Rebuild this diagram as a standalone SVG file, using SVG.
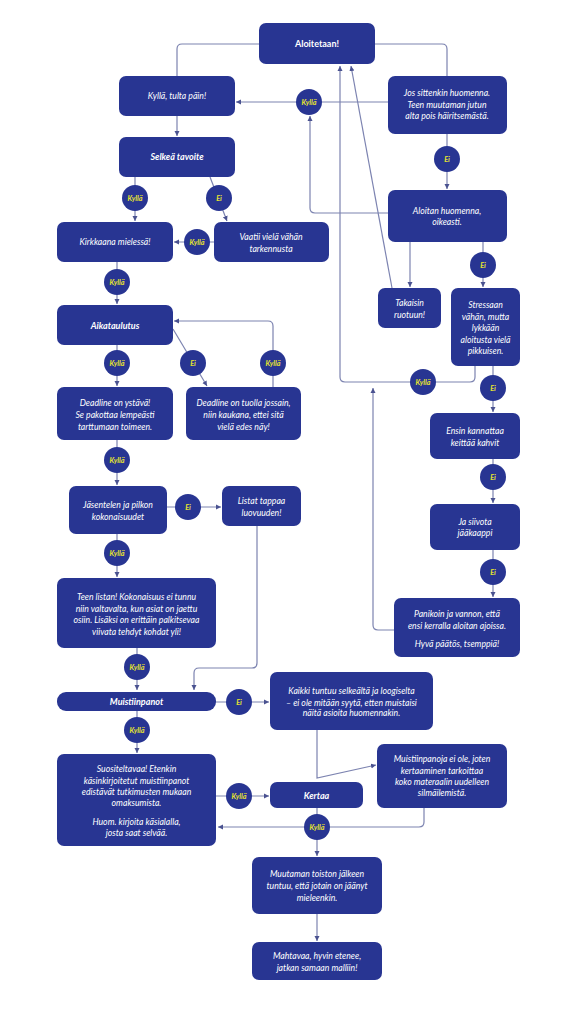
<svg xmlns="http://www.w3.org/2000/svg" width="584" height="1024" viewBox="0 0 584 1024">
<style>
.n{fill:#283592}
.t{fill:#ffffff;font-family:Lato,"Open Sans",sans-serif;font-style:italic;font-size:8.7px;text-anchor:middle}
.b{font-weight:bold;font-size:9px}
.u{font-style:normal}
.c{fill:#283592}
.k{fill:#e9e62c;font-family:Lato,"Open Sans",sans-serif;font-style:italic;font-weight:bold;font-size:7.2px;text-anchor:middle}
.l{fill:none;stroke:#7c83b0;stroke-width:1.2}
.a{marker-end:url(#ah)}
</style>
<defs>
<marker id="ah" markerUnits="userSpaceOnUse" markerWidth="6" markerHeight="6" refX="5" refY="3" orient="auto">
<path d="M0,0.5 L5,3 L0,5.5 Z" fill="#4a5290"/>
</marker>
</defs>
<rect width="584" height="1024" fill="#ffffff"/>
<g id="connectors">
<path class="l" d="M259,44 H182 Q177,44 177,49 V76"/>
<path class="l" d="M375,44 H442 Q447,44 447,49 V76"/>
<path class="l a" d="M388,102 H236"/>
<path class="l a" d="M177,116 V136"/>
<path class="l a" d="M447,134 V189"/>
<path class="l a" d="M388,213 H315 Q310,213 310,208 V116"/>
<path class="l a" d="M475,366 V377 Q475,382 470,382 H345 Q340,382 340,377 V66"/>
<path class="l a" d="M392,288 L351,66"/>
<path class="l a" d="M410,242 V287"/>
<path class="l a" d="M483,242 V287"/>
<path class="l a" d="M493,366 V412"/>
<path class="l a" d="M493,459 V503"/>
<path class="l a" d="M493,550 V597"/>
<path class="l a" d="M394,630 H378 Q373,630 373,625 V388"/>
<path class="l a" d="M135,177 V221"/>
<path class="l a" d="M210,177 L227,221"/>
<path class="l a" d="M214,242 H174"/>
<path class="l a" d="M117,262 V304"/>
<path class="l a" d="M117,345 V386"/>
<path class="l a" d="M173,329 L207,386"/>
<path class="l a" d="M273,387 V326 Q273,321 268,321 H174"/>
<path class="l a" d="M117,440 V485"/>
<path class="l a" d="M167,507 H221"/>
<path class="l a" d="M257,526 V663 Q257,668 252,668 H199 Q194,668 194,673 V690"/>
<path class="l a" d="M117,534 V577"/>
<path class="l a" d="M137,648 V690"/>
<path class="l a" d="M216,702 H269"/>
<path class="l a" d="M137,711 V753"/>
<path class="l a" d="M216,796 H269"/>
<path class="l a" d="M317,730 V778 L376,765"/>
<path class="l a" d="M424,808 V822 Q424,827 419,827 H218"/>
<path class="l a" d="M317,808 V856"/>
<path class="l a" d="M317,914 V941"/>
</g>
<g id="badges">
<g id="b1"><circle class="c" cx="309" cy="102" r="13"/><text class="k" x="309" y="104.5">Kyllä</text></g>
<g id="b2"><circle class="c" cx="447" cy="159" r="13"/><text class="k" x="447" y="161.5">Ei</text></g>
<g id="b3"><circle class="c" cx="135" cy="198" r="13"/><text class="k" x="135" y="200.5">Kyllä</text></g>
<g id="b4"><circle class="c" cx="219" cy="198" r="13"/><text class="k" x="219" y="200.5">Ei</text></g>
<g id="b5"><circle class="c" cx="197" cy="242" r="13"/><text class="k" x="197" y="244.5">Kyllä</text></g>
<g id="b6"><circle class="c" cx="483" cy="265" r="13"/><text class="k" x="483" y="267.5">Ei</text></g>
<g id="b7"><circle class="c" cx="117" cy="282" r="13"/><text class="k" x="117" y="284.5">Kyllä</text></g>
<g id="b8"><circle class="c" cx="117" cy="363" r="13"/><text class="k" x="117" y="365.5">Kyllä</text></g>
<g id="b9"><circle class="c" cx="193" cy="363" r="13"/><text class="k" x="193" y="365.5">Ei</text></g>
<g id="b10"><circle class="c" cx="273" cy="363" r="13"/><text class="k" x="273" y="365.5">Kyllä</text></g>
<g id="b11"><circle class="c" cx="423" cy="382" r="13"/><text class="k" x="423" y="384.5">Kyllä</text></g>
<g id="b12"><circle class="c" cx="493" cy="388" r="13"/><text class="k" x="493" y="390.5">Ei</text></g>
<g id="b13"><circle class="c" cx="117" cy="460" r="13"/><text class="k" x="117" y="462.5">Kyllä</text></g>
<g id="b14"><circle class="c" cx="493" cy="477" r="13"/><text class="k" x="493" y="479.5">Ei</text></g>
<g id="b15"><circle class="c" cx="188" cy="507" r="13"/><text class="k" x="188" y="509.5">Ei</text></g>
<g id="b16"><circle class="c" cx="117" cy="553" r="13"/><text class="k" x="117" y="555.5">Kyllä</text></g>
<g id="b17"><circle class="c" cx="493" cy="572" r="13"/><text class="k" x="493" y="574.5">Ei</text></g>
<g id="b18"><circle class="c" cx="137" cy="667" r="13"/><text class="k" x="137" y="669.5">Kyllä</text></g>
<g id="b19"><circle class="c" cx="239" cy="702" r="13"/><text class="k" x="239" y="704.5">Ei</text></g>
<g id="b20"><circle class="c" cx="137" cy="730" r="13"/><text class="k" x="137" y="732.5">Kyllä</text></g>
<g id="b21"><circle class="c" cx="239" cy="796" r="13"/><text class="k" x="239" y="798.5">Kyllä</text></g>
<g id="b22"><circle class="c" cx="317" cy="827" r="13"/><text class="k" x="317" y="829.5">Kyllä</text></g>
</g>
<g id="aloitetaan"><rect class="n" x="259" y="23" width="116" height="41" rx="7"/><text class="t b u" x="317" y="46.5">Aloitetaan!</text></g>
<g id="tulta"><rect class="n" x="119" y="76" width="116" height="40" rx="7"/><text class="t" x="177" y="99">Kyllä, tulta päin!</text></g>
<g id="jos"><rect class="n" x="388" y="76" width="119" height="58" rx="7"/><text class="t"><tspan x="447" y="96">Jos sittenkin huomenna.</tspan><tspan x="447" y="108">Teen muutaman jutun</tspan><tspan x="447" y="119">alta pois häiritsemästä.</tspan></text></g>
<g id="selkea"><rect class="n" x="119" y="137" width="116" height="40" rx="7"/><text class="t b" x="177" y="160">Selkeä tavoite</text></g>
<g id="aloitan"><rect class="n" x="388" y="190" width="119" height="52" rx="7"/><text class="t"><tspan x="447" y="214">Aloitan huomenna,</tspan><tspan x="447" y="225">oikeasti.</tspan></text></g>
<g id="kirkkaana"><rect class="n" x="57" y="222" width="116" height="40" rx="7"/><text class="t" x="115" y="245">Kirkkaana mielessä!</text></g>
<g id="vaatii"><rect class="n" x="214" y="222" width="115" height="40" rx="7"/><text class="t"><tspan x="271" y="240">Vaatii vielä vähän</tspan><tspan x="271" y="252">tarkennusta</tspan></text></g>
<g id="takaisin"><rect class="n" x="378" y="288" width="63" height="40" rx="7"/><text class="t"><tspan x="409.5" y="306">Takaisin</tspan><tspan x="409.5" y="318">ruotuun!</tspan></text></g>
<g id="stressaan"><rect class="n" x="451" y="288" width="69" height="78" rx="7"/><text class="t"><tspan x="485.5" y="308">Stressaan</tspan><tspan x="485.5" y="319.5">vähän, mutta</tspan><tspan x="485.5" y="331">lykkään</tspan><tspan x="485.5" y="342.5">aloitusta vielä</tspan><tspan x="485.5" y="354">pikkuisen.</tspan></text></g>
<g id="aikataulutus"><rect class="n" x="57" y="305" width="116" height="40" rx="7"/><text class="t b" x="115" y="328.5">Aikataulutus</text></g>
<g id="ystava"><rect class="n" x="57" y="387" width="116" height="53" rx="7"/><text class="t"><tspan x="115" y="406">Deadline on ystävä!</tspan><tspan x="115" y="418">Se pakottaa lempeästi</tspan><tspan x="115" y="430">tarttumaan toimeen.</tspan></text></g>
<g id="tuolla"><rect class="n" x="186" y="387" width="115" height="53" rx="7"/><text class="t"><tspan x="243.5" y="406">Deadline on tuolla jossain,</tspan><tspan x="243.5" y="418">niin kaukana, ettei sitä</tspan><tspan x="243.5" y="430">vielä edes näy!</tspan></text></g>
<g id="ensin"><rect class="n" x="430" y="413" width="90" height="46" rx="7"/><text class="t"><tspan x="475" y="434">Ensin kannattaa</tspan><tspan x="475" y="446">keittää kahvit</tspan></text></g>
<g id="jasentelen"><rect class="n" x="69" y="486" width="98" height="48" rx="7"/><text class="t"><tspan x="118" y="508">Jäsentelen ja pilkon</tspan><tspan x="118" y="520">kokonaisuudet</tspan></text></g>
<g id="listat"><rect class="n" x="222" y="486" width="79" height="40" rx="7"/><text class="t"><tspan x="261.5" y="504">Listat tappaa</tspan><tspan x="261.5" y="516">luovuuden!</tspan></text></g>
<g id="siivota"><rect class="n" x="430" y="504" width="90" height="46" rx="7"/><text class="t"><tspan x="475" y="525">Ja siivota</tspan><tspan x="475" y="536">jääkaappi</tspan></text></g>
<g id="listan"><rect class="n" x="57" y="578" width="159" height="70" rx="7"/><text class="t"><tspan x="136.5" y="600">Teen listan! Kokonaisuus ei tunnu</tspan><tspan x="136.5" y="612">niin valtavalta, kun asiat on jaettu</tspan><tspan x="136.5" y="623">osiin. Lisäksi on erittäin palkitsevaa</tspan><tspan x="136.5" y="635">viivata tehdyt kohdat yli!</tspan></text></g>
<g id="panikoin"><rect class="n" x="394" y="598" width="126" height="59" rx="7"/><text class="t"><tspan x="457" y="617">Panikoin ja vannon, että</tspan><tspan x="457" y="629">ensi kerralla aloitan ajoissa.</tspan><tspan x="457" y="647">Hyvä päätös, tsemppiä!</tspan></text></g>
<g id="kaikki"><rect class="n" x="270" y="672" width="163" height="58" rx="7"/><text class="t"><tspan x="351.5" y="694">Kaikki tuntuu selkeältä ja loogiselta</tspan><tspan x="351.5" y="705.5">– ei ole mitään syytä, etten muistaisi</tspan><tspan x="351.5" y="716">näitä asioita huomennakin.</tspan></text></g>
<g id="muistiinpanot"><rect class="n" x="57" y="692" width="159" height="19" rx="9"/><text class="t b" x="136.5" y="704.5">Muistiinpanot</text></g>
<g id="muistiinpanoja"><rect class="n" x="377" y="744" width="130" height="64" rx="7"/><text class="t"><tspan x="442" y="762">Muistiinpanoja ei ole, joten</tspan><tspan x="442" y="773.5">kertaaminen tarkoittaa</tspan><tspan x="442" y="784.5">koko materaalin uudelleen</tspan><tspan x="442" y="795.5">silmäilemistä.</tspan></text></g>
<g id="suositeltavaa"><rect class="n" x="57" y="754" width="159" height="92" rx="7"/><text class="t"><tspan x="136.5" y="772">Suositeltavaa! Etenkin</tspan><tspan x="136.5" y="783.5">käsinkirjoitetut muistiinpanot</tspan><tspan x="136.5" y="795">edistävät tutkimusten mukaan</tspan><tspan x="136.5" y="806">omaksumista.</tspan><tspan x="136.5" y="824.5">Huom. kirjoita käsialalla,</tspan><tspan x="136.5" y="836">josta saat selvää.</tspan></text></g>
<g id="kertaa"><rect class="n" x="270" y="782" width="93" height="26" rx="7"/><text class="t b" x="316.5" y="798.5">Kertaa</text></g>
<g id="muutaman"><rect class="n" x="252" y="857" width="130" height="57" rx="7"/><text class="t"><tspan x="317" y="877">Muutaman toiston jälkeen</tspan><tspan x="317" y="889">tuntuu, että jotain on jäänyt</tspan><tspan x="317" y="901">mieleenkin.</tspan></text></g>
<g id="mahtavaa"><rect class="n" x="252" y="942" width="130" height="38" rx="7"/><text class="t"><tspan x="317" y="959">Mahtavaa, hyvin etenee,</tspan><tspan x="317" y="971">jatkan samaan malliin!</tspan></text></g>
</svg>
